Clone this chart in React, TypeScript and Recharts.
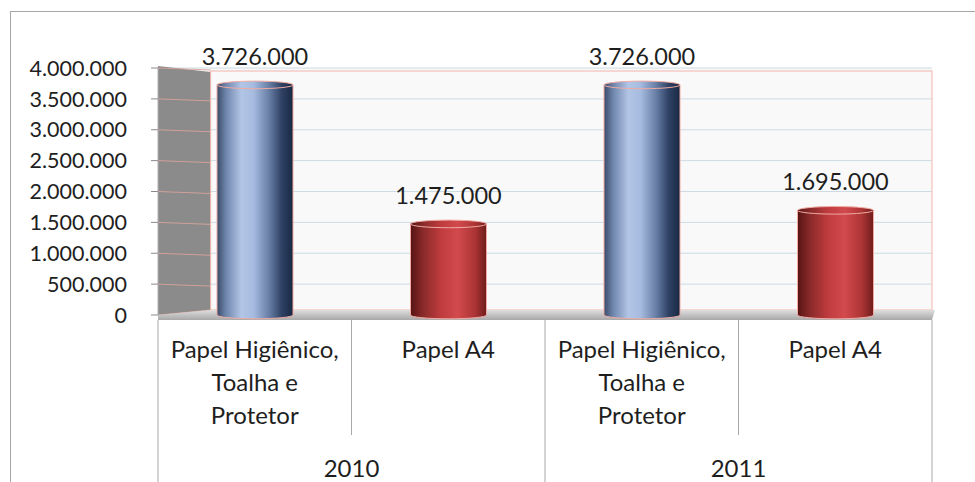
import React from 'react';
import * as Recharts from 'recharts';

const { ComposedChart, Bar, XAxis, YAxis, CartesianGrid, LabelList, Customized } = Recharts as any;
const R: any = Recharts;

// ---- data ----
const categoryLabels = ['Papel Higiênico, Toalha e Protetor', 'Papel A4', 'Papel Higiênico, Toalha e Protetor', 'Papel A4'];
const categoryLines = [
  ['Papel Higiênico,', 'Toalha e', 'Protetor'],
  ['Papel A4'],
  ['Papel Higiênico,', 'Toalha e', 'Protetor'],
  ['Papel A4'],
];
const years = ['2010', '2010', '2011', '2011'];
const values = [3726000, 1475000, 3726000, 1695000];
const kinds = ['blue', 'red', 'blue', 'red'];
const yTicks = [0, 500000, 1000000, 1500000, 2000000, 2500000, 3000000, 3500000, 4000000];
const Y_MAX = 4000000;

const data = values.map((v, i) => ({
  cat: categoryLabels[i],
  year: years[i],
  value: v,
  kind: kinds[i],
  lines: categoryLines[i],
}));

const fmt = (v: any) => String(Math.round(Number(v))).replace(/\B(?=(\d{3})+(?!\d))/g, '.');

// ---- layout ----
const W = 975;
const H = 482;
const MARGIN = { top: 68, right: 43, left: 0, bottom: 0 };
const YAXIS_W = 158;
const CAT_H = 120;
const YEAR_H = 47;
const FONT = 'Lato, "Open Sans", sans-serif';
const TEXT = '#1e1e1e';
const LINE = '#a8a8a8';

function usePlot() {
  const fallback = {
    x: MARGIN.left + YAXIS_W,
    y: MARGIN.top,
    width: W - MARGIN.right - MARGIN.left - YAXIS_W,
    height: H - MARGIN.top - MARGIN.bottom - CAT_H - YEAR_H,
  };
  const p = R.usePlotArea ? R.usePlotArea() : null;
  return p && p.width ? p : fallback;
}

function Walls() {
  const p = usePlot();
  const L = p.x, T = p.y, B = p.y + p.height, Rt = p.x + p.width;
  const depth = p.width * 0.068;
  const yOf = (v: number) => T + (1 - v / Y_MAX) * p.height;
  return (
    <g>
      <defs>
        <linearGradient id="gBlue" x1="0" y1="0" x2="1" y2="0">
          <stop offset="0%" stopColor="#3a4b69" />
          <stop offset="12%" stopColor="#6f86ad" />
          <stop offset="32%" stopColor="#b2c5e6" />
          <stop offset="48%" stopColor="#a6bbdf" />
          <stop offset="68%" stopColor="#6a80a7" />
          <stop offset="85%" stopColor="#2f4265" />
          <stop offset="100%" stopColor="#182842" />
        </linearGradient>
        <linearGradient id="gRed" x1="0" y1="0" x2="1" y2="0">
          <stop offset="0%" stopColor="#561414" />
          <stop offset="15%" stopColor="#862828" />
          <stop offset="40%" stopColor="#bf3c3e" />
          <stop offset="62%" stopColor="#d24a4d" />
          <stop offset="85%" stopColor="#ac3434" />
          <stop offset="100%" stopColor="#6e1c1c" />
        </linearGradient>
        <linearGradient id="gFloor" x1="0" y1="0" x2="0" y2="1">
          <stop offset="0%" stopColor="#dedede" />
          <stop offset="100%" stopColor="#a8a8a8" />
        </linearGradient>
      </defs>
      <polygon
        points={`${L},${T - 2} ${L + depth},${T + 4} ${L + depth},${B - 5} ${L},${B}`}
        fill="#8b8b8b"
      />
      {yTicks.map((v) => (
        <line key={v} x1={L} y1={yOf(v)} x2={L + depth} y2={yOf(v) + (v === 0 ? -5 : 2)} stroke="#d9a49c" strokeWidth={1} opacity={0.9} />
      ))}
      <rect x={L + depth} y={T + 3} width={Rt - L - depth} height={p.height - 8} fill="none" stroke="#f2b4ab" strokeWidth={1} />
      <polygon
        points={`${L},${B} ${L + depth},${B - 5} ${Rt + 3},${B - 5} ${Rt},${B + 5} ${L},${B + 5}`}
        fill="url(#gFloor)"
      />
    </g>
  );
}

function Dividers() {
  const p = usePlot();
  const band = p.width / values.length;
  const B = p.y + p.height;
  const xs = [];
  for (let i = 0; i <= values.length; i++) {
    const outer = i === 0 || i === values.length || years[i] !== years[i - 1];
    xs.push(
      <line key={i} x1={p.x + i * band} x2={p.x + i * band} y1={B + 5} y2={outer ? H : B + CAT_H} stroke={LINE} strokeWidth={1} />
    );
  }
  return <g>{xs}</g>;
}

const Cylinder = (props: any) => {
  const { x, y, width, height, payload } = props;
  if (!width || height == null) return null;
  const rx = width / 2;
  const ry = Math.max(3, width * 0.05);
  const body = payload.kind === 'blue' ? 'url(#gBlue)' : 'url(#gRed)';
  const b = y + height;
  return (
    <g>
      <path
        d={`M${x},${y} L${x},${b} A${rx},${ry} 0 0 0 ${x + width},${b} L${x + width},${y} Z`}
        fill={body}
        stroke="#f0aaa2"
        strokeWidth={1}
      />
      <ellipse cx={x + rx} cy={y} rx={rx} ry={ry} fill={body} stroke="#f0aaa2" strokeWidth={1} />
    </g>
  );
};

const CatTick = (props: any) => {
  const { x, y, index } = props;
  const lines = categoryLines[index] || [];
  return (
    <g>
      {lines.map((t, i) => (
        <text key={i} x={x} y={y + 33 + i * 33} textAnchor="middle" dominantBaseline="central" fontSize={24} fill={TEXT} fontFamily={FONT}>
          {t}
        </text>
      ))}
    </g>
  );
};

const YearTick = (props: any) => {
  const { x, y, index } = props;
  const p = usePlot();
  const band = p.width / values.length;
  if (index > 0 && years[index] === years[index - 1]) return null;
  let n = 1;
  while (index + n < years.length && years[index + n] === years[index]) n++;
  return (
    <text x={x + ((n - 1) * band) / 2} y={y + 32} textAnchor="middle" dominantBaseline="central" fontSize={24} fill={TEXT} fontFamily={FONT}>
      {years[index]}
    </text>
  );
};

export default function App() {
  return (
    <div style={{ position: 'absolute', left: 0, top: 0, width: W, height: H, background: '#fff', overflow: 'hidden' }}>
      <div
        style={{
          position: 'absolute',
          left: 10,
          top: 11,
          width: W,
          height: H,
          borderTop: '1px solid #a6a6a6',
          borderLeft: '1px solid #a6a6a6',
        }}
      />
      <div style={{ position: 'absolute', left: 0, top: 0 }}>
        <ComposedChart width={W} height={H} data={data} margin={MARGIN} style={{ fontFamily: FONT }}>
          <CartesianGrid horizontal vertical={false} stroke="#cddbe4" fill="#f9f9f9" />
          <Customized component={<Walls />} />
          <XAxis
            xAxisId="cat"
            dataKey="cat"
            height={CAT_H}
            axisLine={false}
            tickLine={false}
            tickSize={0}
            tickMargin={0}
            interval={0}
            tick={<CatTick />}
          />
          <XAxis
            xAxisId="year"
            dataKey="year"
            height={YEAR_H}
            axisLine={false}
            tickLine={false}
            tickSize={0}
            tickMargin={0}
            interval={0}
            tick={<YearTick />}
          />
          <YAxis
            width={YAXIS_W}
            domain={[0, Y_MAX]}
            ticks={yTicks}
            interval={0}
            tickFormatter={fmt}
            axisLine={{ stroke: '#b0b0b0' }}
            tickLine={{ stroke: '#8a8a8a' }}
            tickSize={7}
            tickMargin={24}
            tick={{ fontSize: 21.5, fill: TEXT, fontFamily: FONT }}
          />
          <Bar xAxisId="cat" dataKey="value" barSize={76} shape={<Cylinder />} isAnimationActive={false}>
            <LabelList dataKey="value" position="top" offset={20} formatter={fmt} style={{ fontSize: 23.5, fill: TEXT, fontFamily: FONT }} />
          </Bar>
          <Customized component={<Dividers />} />
        </ComposedChart>
      </div>
    </div>
  );
}
